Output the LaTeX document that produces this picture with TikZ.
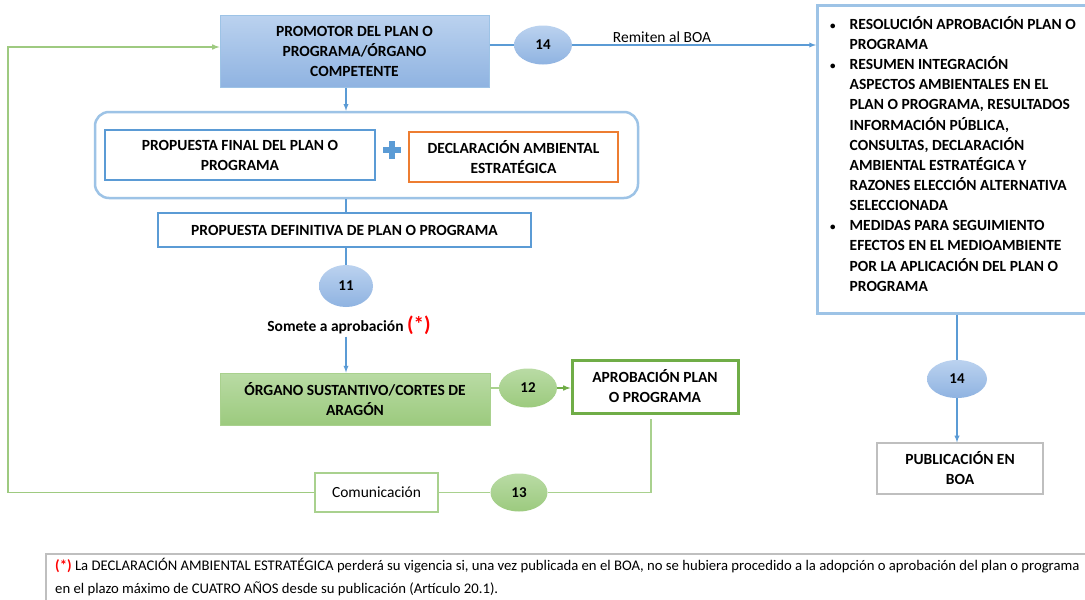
\documentclass[tikz,border=0pt]{standalone}
\usepackage{fontspec}
\setmainfont{Carlito}
\usetikzlibrary{shapes.geometric, arrows, positioning}
\definecolor{azul}{HTML}{5B9BD5}
\definecolor{azulborde}{HTML}{9DC3E6}
\definecolor{azulclaro}{HTML}{BBD2EF}
\definecolor{azulfondo}{HTML}{8FB3E1}
\definecolor{naranja}{HTML}{ED7D31}
\definecolor{verde}{HTML}{70AD47}
\definecolor{verdeclaro}{HTML}{B9DBA4}
\definecolor{verdefondo}{HTML}{9CCA7E}
\definecolor{verdelinea}{HTML}{A9D18E}
\definecolor{gris}{HTML}{BFBFBF}
\definecolor{rojo}{HTML}{FF0000}

\begin{document}
\begin{tikzpicture}[x=1pt, y=-1pt, >=latex,
        texto/.style={font=\bfseries\fontsize{15.5}{20}\selectfont, align=center},
        caja/.style={texto, rectangle, inner sep=0pt},
        burbuja/.style={ellipse, inner sep=0pt, font=\bfseries\fontsize{15}{18}\selectfont, minimum width=58, minimum height=39},
        burbuja azul/.style={burbuja, top color=azulclaro, bottom color=azulfondo},
        burbuja verde/.style={burbuja, top color=verdeclaro, bottom color=verdefondo}]

        % Canvas
        \path[use as bounding box, fill=white] (0,0) rectangle (1085,600);

        % Points
        \coordinate (ret top) at (8,47);
        \coordinate (ap bajo) at (651,419);

        % Boxes
        \node[caja, draw=azulborde, line width=1pt, top color=azulclaro, bottom color=azulfondo, minimum width=269, minimum height=72] (promotor) at (354.5,51) {PROMOTOR DEL PLAN O\\PROGRAMA/ÓRGANO\\COMPETENTE};
        \node[draw=azulborde, line width=2.5pt, rounded corners=14pt, minimum width=543, minimum height=86] (grupo) at (366.5,155) {};
        \node[caja, draw=azul, line width=2.5pt, minimum width=270, minimum height=50] (final) at (240,155) {PROPUESTA FINAL DEL PLAN O\\PROGRAMA};
        \node[inner sep=0pt] (plus) at (392,150) {};
        \node[caja, draw=naranja, line width=2.5pt, minimum width=209, minimum height=50] (declaracion) at (513.5,157) {DECLARACIÓN AMBIENTAL\\ESTRATÉGICA};
        \node[caja, draw=azul, line width=2.5pt, minimum width=373, minimum height=34] (definitiva) at (344.5,230) {PROPUESTA DEFINITIVA DE PLAN O PROGRAMA};
        \node[caja, draw=verdelinea, line width=1pt, top color=verdeclaro, bottom color=verdefondo, minimum width=270, minimum height=52] (organo) at (355,399) {ÓRGANO SUSTANTIVO/CORTES DE\\ARAGÓN};
        \node[caja, draw=verde, line width=3pt, minimum width=166, minimum height=53] (aprobacion) at (655,386.5) {APROBACIÓN PLAN\\O PROGRAMA};
        \node[caja, draw=verdelinea, line width=1.5pt, font=\fontsize{15.5}{18}\selectfont, minimum width=123, minimum height=39] (comunicacion) at (376.5,492.5) {Comunicación};
        \node[draw=azulborde, line width=2.5pt, anchor=north west, minimum width=285, minimum height=308] (resumen) at (816,4) {};
        \node[caja, draw=gris, line width=1.2pt, minimum width=166, minimum height=51] (publicacion) at (960,468.5) {PUBLICACIÓN EN\\BOA};

        % Bubbles
        \node[burbuja azul] (e14a) at (543,45) {14};
        \node[burbuja azul, minimum width=54, minimum height=42] (e11) at (346,286) {11};
        \node[burbuja verde] (e12) at (528,388) {12};
        \node[burbuja verde, minimum width=57, minimum height=38] (e13) at (519,492.5) {13};
        \node[burbuja azul, minimum width=60, minimum height=38] (e14b) at (957,379) {14};

        % Plus sign
        \draw[azul, line width=6pt] ([xshift=-9pt]plus.center) -- ([xshift=9pt]plus.center);
        \draw[azul, line width=6pt] ([yshift=-9pt]plus.center) -- ([yshift=9pt]plus.center);

        % Labels
        \node[font=\fontsize{15.5}{18}\selectfont] (remiten) at (662,37) {Remiten al BOA};
        \node[texto, inner sep=2pt] (somete) at (349,325) {Somete a aprobación \textcolor{rojo}{\fontsize{21}{21}\selectfont(*)}};
        \node[anchor=north west, inner sep=0pt, font=\bfseries\fontsize{15.5}{20.15}\selectfont] (lista) at (830,15) {%
            \begin{tabular}{@{}c@{\hspace{14pt}}l@{}}
                {\fontsize{11}{11}\selectfont\textbullet} & RESOLUCIÓN APROBACIÓN PLAN O\\
                            & PROGRAMA\\
                {\fontsize{11}{11}\selectfont\textbullet} & RESUMEN INTEGRACIÓN\\
                            & ASPECTOS AMBIENTALES EN EL\\
                            & PLAN O PROGRAMA, RESULTADOS\\
                            & INFORMACIÓN PÚBLICA,\\
                            & CONSULTAS, DECLARACIÓN\\
                            & AMBIENTAL ESTRATÉGICA Y\\
                            & RAZONES ELECCIÓN ALTERNATIVA\\
                            & SELECCIONADA\\
                {\fontsize{11}{11}\selectfont\textbullet} & MEDIDAS PARA SEGUIMIENTO\\
                            & EFECTOS EN EL MEDIOAMBIENTE\\
                            & POR LA APLICACIÓN DEL PLAN O\\
                            & PROGRAMA
            \end{tabular}};

        % Note
        \node[draw=gris, line width=1.5pt, anchor=north west, minimum width=1060, minimum height=60] (nota) at (45,553) {};
        \node[anchor=north west, inner sep=0pt, align=left, font=\fontsize{14.7}{23}\selectfont] (notatxt) at (55,558.5) {\textcolor{rojo}{\bfseries(*)} La DECLARACIÓN AMBIENTAL ESTRATÉGICA perderá su vigencia si, una vez publicada en el BOA, no se hubiera procedido a la adopción o aprobación del plan o programa\\en el plazo máximo de CUATRO AÑOS desde su publicación (Artículo 20.1).};

        % Connectors
        \draw[azul, line width=1.3pt] (promotor.east |- e14a) -- (e14a.west);
        \draw[azul, line width=1.3pt, ->] (e14a.east) -- (resumen.west |- e14a);
        \draw[azul, line width=1.3pt, ->] (promotor.south -| e11) -- (grupo.north -| e11);
        \draw[azul, line width=1.3pt] (grupo.south -| e11) -- (definitiva.north -| e11);
        \draw[azul, line width=1.3pt] (definitiva.south -| e11) -- (e11.north);
        \draw[azul, line width=1.3pt, ->] (somete.south -| e11) -- (organo.north -| e11);
        \draw[verdelinea, line width=1.5pt] (organo.east |- e12) -- (e12.west);
        \draw[verde, line width=1.5pt, ->] (e12.east) -- (aprobacion.west |- e12);
        \draw[verdelinea, line width=1.5pt] (ap bajo) |- (e13.east);
        \draw[verdelinea, line width=1.5pt] (e13.west) -- (comunicacion.east);
        \draw[verdelinea!80!verde, line width=1.5pt, ->] (comunicacion.west) -| (ret top) -- (promotor.west |- ret top);
        \draw[azul, line width=1.3pt] (resumen.south -| e14b) -- (e14b.north);
        \draw[azul, line width=1.3pt, ->] (e14b.south) -- (publicacion.north -| e14b);

    \end{tikzpicture}
\end{document}
